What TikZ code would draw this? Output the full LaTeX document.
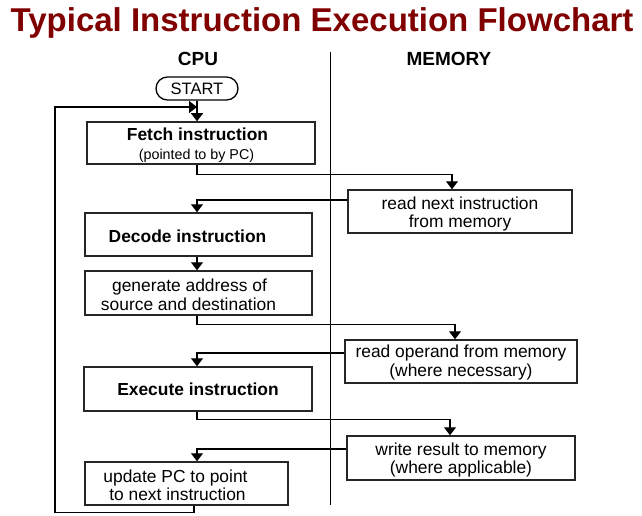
\documentclass[tikz,border=0pt]{standalone}
\usepackage{fontspec}
\setmainfont{Liberation Sans}
\usetikzlibrary{arrows.meta,calc}
\definecolor{titlered}{RGB}{128,0,0}
\newcommand\txtleft[2]{\mbox{#2\hspace{#1}}}
\newcommand\lowerstrut[1]{\rule{0pt}{#1}}
\begin{document}
\begin{tikzpicture}[x=1pt,y=-1pt,
  box/.style={draw=black!85, line width=1.5pt, minimum width=#1, minimum height=43pt,
    align=center, inner sep=0pt, font=\fontsize{17.4}{18.5}\selectfont},
  bbox/.style={box=#1, font=\fontsize{17.4}{18.5}\selectfont\bfseries},
  head/.style={font=\fontsize{19}{19}\selectfont\bfseries, anchor=base, inner sep=0pt},
  arr/.style={line width=1.3pt, -{Triangle[width=12pt,length=8pt]}},
]
\useasboundingbox (0,0) rectangle (642,516);

\node[font=\fontsize{33}{33}\selectfont\bfseries, text=titlered, anchor=base, inner sep=0pt] (title) at (322,32) {Typical Instruction Execution Flowchart};
\node[head] (cpu) at (198,66) {CPU};
\node[head] (mem) at (449,66) {MEMORY};
\draw[line width=1pt] (330,52) -- (330,505);

\node[draw, rounded corners=11.5pt, minimum width=82pt, minimum height=23pt, inner sep=0pt,
  line width=1.3pt, font=\fontsize{16.5}{16.5}\selectfont] (start) at (197,88.5) {START};

\node[box=228pt, minimum height=42pt] (fetch) at (201,143)
  {\lowerstrut{16.5pt}{\bfseries\txtleft{7pt}{Fetch instruction}}\\[0pt]\fontsize{14.3}{14.3}\selectfont \txtleft{9pt}{(pointed to by PC)}};
\node[box=224pt] (mem1) at (460,211.5) {\lowerstrut{17.5pt}read next instruction\\from memory};
\node[bbox=227pt] (decode) at (198.5,234.5) {\lowerstrut{15.5pt}\txtleft{22pt}{Decode instruction}};
\node[box=227pt, minimum height=44pt] (gen) at (198.5,293)
  {\lowerstrut{16pt}\txtleft{18pt}{generate address of}\\\txtleft{20pt}{source and destination}};
\node[box=232pt] (mem2) at (461,361.5) {\lowerstrut{15pt}read operand from memory\\(where necessary)};
\node[bbox=228pt, minimum height=44pt] (exec) at (198,389) {Execute instruction};
\node[box=228pt, minimum height=44pt] (mem3) at (461,458) {\lowerstrut{17pt}write result to memory\\(where applicable)};
\node[box=203pt] (update) at (186.5,483.5)
  {\lowerstrut{16pt}\txtleft{22pt}{update PC to point}\\\txtleft{18pt}{to next instruction}};

\coordinate (tx) at (197,0);
\coordinate (ux) at (194,0);
\coordinate (loopl) at (55,107);
\coordinate (entry) at (197,107);

\draw[arr] (start.south) -- (start.south |- fetch.north);
\draw[arr] (update.south -| ux) -- ++(0,7) -| (loopl) -- (entry);
\draw[arr] (fetch.south -| tx) -- ++(0,10) -| ($(mem1.north)+(-8,0)$);
\draw[arr] ($(mem1.west)+(0,-11.5)$) -| (decode.north -| tx);
\draw[arr] (decode.south -| tx) -- (gen.north -| tx);
\draw[arr] (gen.south -| tx) -- ++(0,9) -| ($(mem2.north)+(-6,0)$);
\draw[arr] ($(mem2.west)+(0,-8.5)$) -| (exec.north -| tx);
\draw[arr] (exec.south -| tx) -- ++(0,8) -| ($(mem3.north)+(-11,0)$);
\draw[arr] ($(mem3.west)+(0,-9)$) -| (update.north -| tx);
\end{tikzpicture}
\end{document}
